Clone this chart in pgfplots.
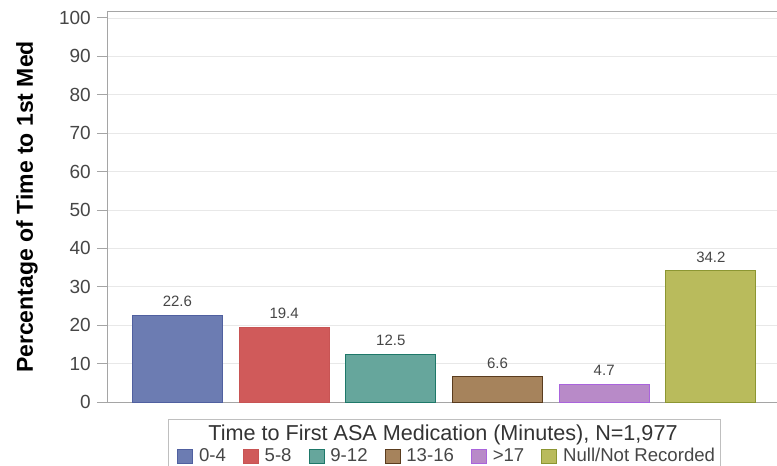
\documentclass[border=0pt]{standalone}
\usepackage{pgfplots}
\pgfplotsset{compat=1.18}
\usepackage{fontspec}
\setmainfont{Liberation Sans}
\definecolor{bAf}{RGB}{108,124,178}\definecolor{bAd}{RGB}{80,96,160}
\definecolor{bBf}{RGB}{208,90,90}\definecolor{bBd}{RGB}{200,84,84}
\definecolor{bCf}{RGB}{102,166,156}\definecolor{bCd}{RGB}{30,120,105}
\definecolor{bDf}{RGB}{166,131,92}\definecolor{bDd}{RGB}{90,60,30}
\definecolor{bEf}{RGB}{184,138,200}\definecolor{bEd}{RGB}{170,100,220}
\definecolor{bFf}{RGB}{185,187,92}\definecolor{bFd}{RGB}{140,150,50}
\definecolor{axgray}{RGB}{165,165,165}
\definecolor{txt}{RGB}{70,70,70}
\begin{document}
\begin{tikzpicture}
\useasboundingbox (-107bp,-64bp) rectangle (670bp,402bp);
\begin{axis}[
  at={(0,0)}, anchor=south west,
  scale only axis, width=670bp, height=391bp,
  ybar,
  xmin=-0.66, xmax=5.62,
  ymin=0, ymax=101.8,
  xtick=\empty,
  ytick={0,10,...,100},
  axis x line*=box, axis y line*=left,
  axis line style={color=axgray, line width=0.9pt},
  tick align=outside, major tick length=10bp,
  y tick style={color=axgray, line width=0.9pt},
  ymajorgrids, major grid style={color=black!9, line width=0.8pt},
  /pgf/number format/assume math mode=true,
  yticklabel style={font=\fontsize{19bp}{22bp}\selectfont, color=txt, inner sep=2bp, xshift=-4bp},
  ylabel={\bfseries Percentage of Time to 1st Med},
  every axis y label/.style={at={(axis description cs:-0.1194,0.4987)}, rotate=90, anchor=center, font=\fontsize{23bp}{26bp}\selectfont, color=black},
  bar width=0.844,
  nodes near coords,
  nodes near coords style={/pgf/number format/fixed, /pgf/number format/precision=1, /pgf/number format/fixed zerofill},
  every node near coord/.append style={font=\fontsize{15bp}{18bp}\selectfont, color=txt, inner sep=0pt, anchor=south, yshift=8bp},
  legend image code/.code={\draw[#1, line width=0.8pt] (0bp,-7bp) rectangle (15bp,7bp);},
  legend columns=6,
  legend style={draw=none, fill=none, inner sep=0pt, at={(0.1045,-0.138)}, anchor=west,
    font=\fontsize{18.6bp}{21bp}\selectfont, text=txt,
    /tikz/every odd column/.append style={column sep=6bp},
    /tikz/every even column/.append style={column sep=17bp},
    nodes={inner sep=0pt}},
]
\addplot[bar shift=0pt, fill=bAf, draw=bAd, line width=0.8pt] coordinates {(0,22.6)};
\addlegendentry{0-4}
\addplot[bar shift=0pt, fill=bBf, draw=bBd, line width=0.8pt] coordinates {(1,19.4)};
\addlegendentry{5-8}
\addplot[bar shift=0pt, fill=bCf, draw=bCd, line width=0.8pt] coordinates {(2,12.5)};
\addlegendentry{9-12}
\addplot[bar shift=0pt, fill=bDf, draw=bDd, line width=0.8pt] coordinates {(3,6.6)};
\addlegendentry{13-16}
\addplot[bar shift=0pt, fill=bEf, draw=bEd, line width=0.8pt] coordinates {(4,4.7)};
\addlegendentry{>17}
\addplot[bar shift=0pt, fill=bFf, draw=bFd, line width=0.8pt] coordinates {(5,34.2)};
\addlegendentry{Null/Not Recorded}
\end{axis}
\draw[color=black!25, line width=0.8pt] (61bp,-80bp) -- (61bp,-17bp) -- (613bp,-17bp) -- (613bp,-80bp);
\node[anchor=base, inner sep=0pt, font=\fontsize{21.6bp}{24bp}\selectfont, text=black!80] at (336bp,-38bp) {Time to First ASA Medication (Minutes), N=1,977};
\end{tikzpicture}
\end{document}
